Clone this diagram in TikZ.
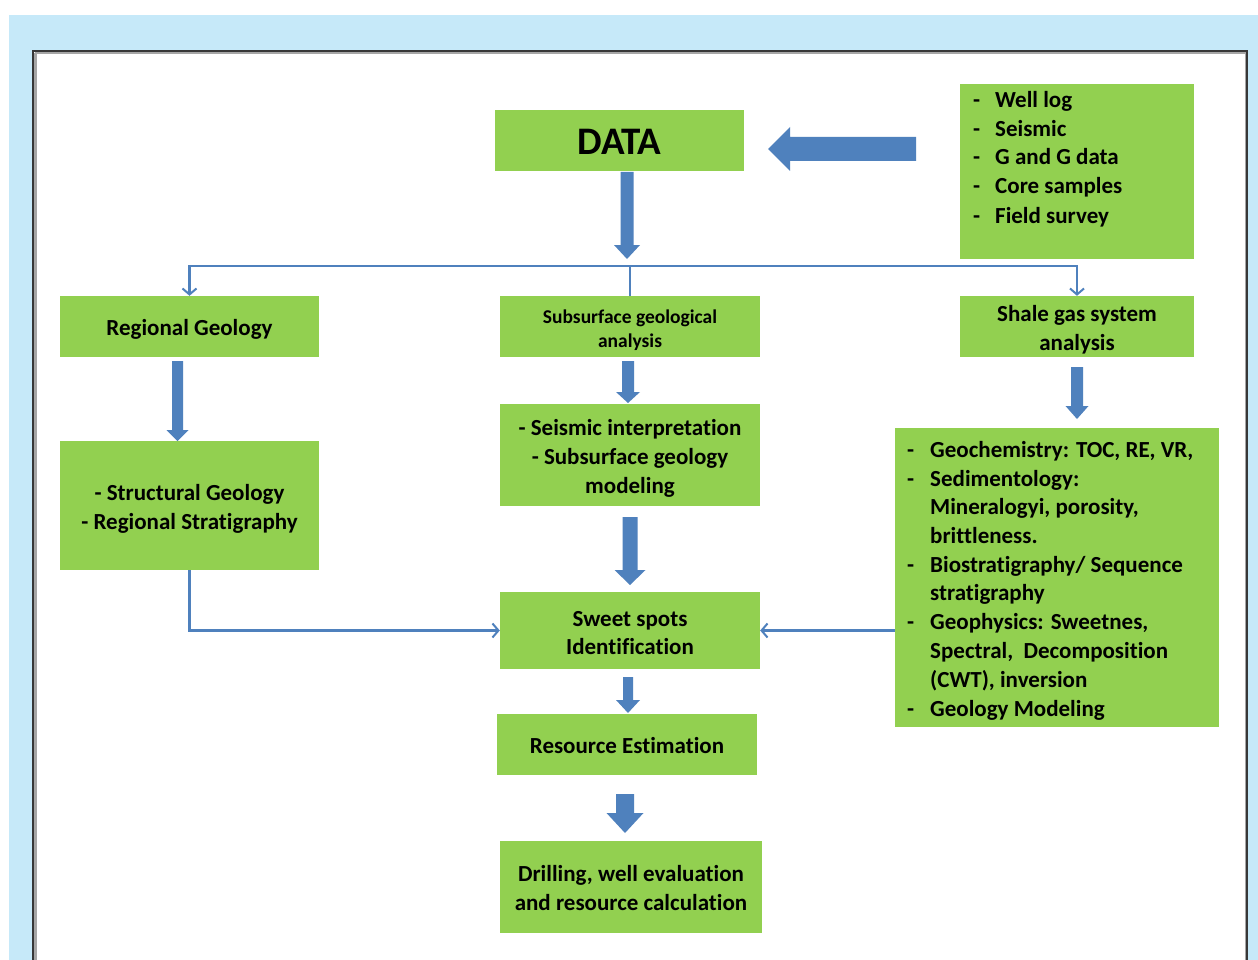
\documentclass[tikz,border=0pt]{standalone}
\usepackage{fontspec}
\setmainfont{Carlito}[Ligatures={NoCommon}]
\usetikzlibrary{arrows.meta}
\definecolor{bgblue}{RGB}{198,233,249}
\definecolor{boxgreen}{RGB}{146,208,80}
\definecolor{arrblue}{RGB}{79,129,189}
\definecolor{framegray}{RGB}{55,55,55}
\newcommand{\blkdown}[6]{% cx, ytop, ybot, shaft half, head half, head len
  \fill[arrblue] ({#1-#4},#2) -- ({#1+#4},#2) -- ({#1+#4},{#3-#6}) -- ({#1+#5},{#3-#6})
    -- (#1,#3) -- ({#1-#5},{#3-#6}) -- ({#1-#4},{#3-#6}) -- cycle;}
\begin{document}
\begin{tikzpicture}[x=1pt,y=-1pt,
  gbox/.style={fill=boxgreen, draw=none, inner sep=0pt},
  btxt/.style={inner sep=0pt, align=center, font=\bfseries\fontsize{23}{29}\selectfont},
  listtxt/.style={anchor=base west, inner sep=0pt, font=\bfseries\fontsize{23}{29}\selectfont},
  conn/.style={draw=arrblue, line width=2.4pt},
  tip/.style={-{Straight Barb[length=6pt,width=14pt,line width=2pt]}}
]
\useasboundingbox (0,0) rectangle (1258,960);
\fill[bgblue] (9,15) rectangle (1258,960);
\fill[white] (33,51) rectangle (1247,965);
\draw[gray!70, line width=3pt] (35,53) -- (1246,53);
\draw[gray!70, line width=3pt] (35,53) -- (35,965);
\draw[gray!70, line width=3pt] (1246,53) -- (1246,965);
\draw[framegray, line width=1.5pt] (33,965) -- (33,51) -- (1247,51) -- (1247,965);

% boxes
\node[gbox, minimum width=249, minimum height=61] (data) at (619.5,140.5) {};
\node[btxt, font=\bfseries\fontsize{39}{42}\selectfont] (datat) at ([yshift=-1]data.center) {DATA};
\node[gbox, minimum width=234, minimum height=175] (src) at (1077,171.5) {};
\node[gbox, minimum width=259, minimum height=61] (reg) at (189.5,326.5) {};
\node[btxt] (regt) at ([yshift=-3]reg.center) {Regional Geology};
\node[gbox, minimum width=260, minimum height=61] (sub) at (630,326.5) {};
\node[btxt, font=\bfseries\fontsize{19.5}{24}\selectfont] (subt) at ([yshift=-3.5]sub.center) {Subsurface geological\\analysis};
\node[gbox, minimum width=234, minimum height=61] (shale) at (1077,326.5) {};
\node[btxt] (shalet) at ([yshift=-3]shale.center) {Shale gas system\\analysis};
\node[gbox, minimum width=259, minimum height=129] (struct) at (189.5,505.5) {};
\node[btxt] (structt) at ([yshift=-3]struct.center) {- Structural Geology\\- Regional Stratigraphy};
\node[gbox, minimum width=260, minimum height=102] (seis) at (630,455) {};
\node[btxt] (seist) at ([yshift=-3]seis.center) {- Seismic interpretation\\- Subsurface geology\\modeling};
\node[gbox, minimum width=260, minimum height=77] (sweet) at (630,630.5) {};
\node[btxt, font=\bfseries\fontsize{23}{28.5}\selectfont] (sweett) at ([yshift=-2.5]sweet.center) {Sweet spots\\Identification};
\node[gbox, minimum width=324, minimum height=299] (geo) at (1057,577.5) {};
\node[gbox, minimum width=260, minimum height=61] (res) at (627,744.5) {};
\node[btxt] (rest) at ([yshift=-1.5]res.center) {Resource Estimation};
\node[gbox, minimum width=262, minimum height=92] (drill) at (631,887) {};
\node[btxt] (drillt) at ([yshift=-1]drill.center) {Drilling, well evaluation\\and resource calculation};

% source list
\foreach \y/\t [count=\i] in {108/Well log,137/Seismic,165/G and G data,194/Core samples,223/Field survey}{
  \node[listtxt] (srcd\i) at (973,\y) {-};
  \node[listtxt] (srct\i) at (995,\y) {\t};
}
% geo list
\foreach \y/\d/\t [count=\i] in {
  457/-/{Geochemistry: TOC, RE, VR,},
  486/-/{Sedimentology:},
  514//{Mineralogyi, porosity,},
  543//{brittleness.},
  572/-/{Biostratigraphy/ Sequence},
  600//{stratigraphy},
  629/-/{Geophysics: Sweetnes,},
  658//{Spectral,\ \ Decomposition},
  687//{(CWT), inversion},
  716/-/{Geology Modeling}}{
  \node[listtxt] (geod\i) at (907,\y) {\d};
  \node[listtxt] (geot\i) at (930,\y) {\t};
}

% big left arrow
\fill[arrblue] (916,137) -- (790,137) -- (790,127) -- (768,149) -- (790,171) -- (790,161) -- (916,161) -- cycle;

% block down arrows
\blkdown{627}{172}{259}{6.5}{13}{14}
\blkdown{177.5}{361}{441}{5.5}{11}{11}
\blkdown{628}{361}{403}{6}{12}{11}
\blkdown{1077}{367}{419}{6}{11.5}{13}
\blkdown{630}{517}{585}{7.5}{15.5}{15}
\blkdown{628}{677}{713}{5}{12}{13}
\blkdown{625}{794}{833}{9}{18.5}{20}

% connectors
\draw[conn] (sub.north) -- ++(0,-30) coordinate (split);
\draw[conn, tip] (split) -| (reg.north);
\draw[conn, tip] (split) -| (shale.north);
\draw[conn, tip] (struct.south) |- (sweet.west);
\draw[conn, tip] (geo.west |- sweet.west) -- (sweet.east);
\end{tikzpicture}
\end{document}
